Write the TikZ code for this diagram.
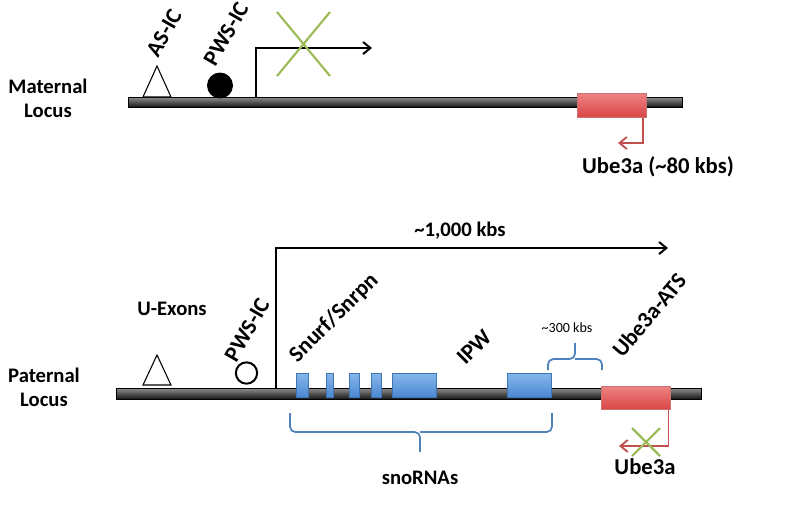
\documentclass[tikz,border=0pt]{standalone}
\usepackage{fontspec}
\setmainfont{Carlito}
\usetikzlibrary{arrows.meta,positioning}
\definecolor{locus}{HTML}{3A3A3A}
\definecolor{redtop}{HTML}{EE8383}
\definecolor{redbot}{HTML}{D94545}
\definecolor{redline}{HTML}{C0504D}
\definecolor{bluetop}{HTML}{86B6EA}
\definecolor{bluebot}{HTML}{4A88D2}
\definecolor{braceblue}{HTML}{4F81BD}
\definecolor{nogreen}{HTML}{9BBB59}

\begin{document}
\begin{tikzpicture}[x=0.75pt, y=-0.75pt,
  lbl/.style={font=\bfseries\fontsize{15.5}{18}\selectfont, align=center, inner sep=0pt},
  rlbl/.style={font=\bfseries\fontsize{17}{19}\selectfont, inner sep=0pt},
  gene/.style={font=\bfseries\fontsize{17}{20}\selectfont, inner sep=0pt},
  chrom/.style={draw=black, line width=0.4pt, top color=black!45, middle color=black!60, bottom color=black!92, inner sep=0pt, anchor=north west},
  redbox/.style={draw=redline!80, line width=0.4pt, top color=redtop, bottom color=redbot, inner sep=0pt, anchor=north west},
  exon/.style={draw=bluebot!85!black, line width=0.4pt, top color=bluetop, bottom color=bluebot, inner sep=0pt, anchor=north west, minimum height=18pt},
  ic/.style={draw=black, line width=0.8pt, fill=white, line join=miter},
  prom/.style={draw=black, line width=1.5pt, -{Straight Barb[length=5.5pt, width=9pt]}},
  redarr/.style={draw=redline, line width=1.4pt, -{Straight Barb[length=5.5pt, width=9pt]}},
  nox/.style={draw=nogreen, line width=1.6pt},
  brc/.style={draw=braceblue, line width=1.3pt, rounded corners=4pt}]
\useasboundingbox (0,0) rectangle (800,515);

% maternal locus
\node[lbl] (matlbl) at (48,98) {Maternal\\Locus};
\node[chrom, minimum width=415.5pt, minimum height=7.5pt] (barM) at (128,97) {};
\coordinate (asM) at (157,66);
\draw[ic] (143,97) -- (asM) -- (171,97) -- cycle;
\node[rlbl, rotate=60] (asMlbl) at (164,33) {AS-IC};
\node[circle, fill=black, minimum size=19.5pt, inner sep=0pt] (pwsM) at (220,85.5) {};
\node[rlbl, rotate=60] (pwsMlbl) at (226,34) {PWS-IC};
\coordinate (tssM) at (256,97);
\coordinate (tssMend) at (372,48);
\draw[prom] (tssM) |- (tssMend);
\draw[nox] (277,12) -- (330,76) (330,12) -- (277,76);
\node[redbox, minimum width=51.75pt, minimum height=18pt] (ubeM) at (577,93) {};
\coordinate (ubeMend) at (618,143);
\draw[redarr] ([xshift=-2.5pt]ubeM.south east) |- (ubeMend);
\node[gene] (ubeMlbl) at (658,167) {Ube3a (\char`\~80 kbs)};

% paternal locus
\node[lbl] (patlbl) at (44,387) {Paternal\\Locus};
\node[chrom, minimum width=438.75pt, minimum height=8.25pt] (barP) at (116,388) {};
\coordinate (uexP) at (157,355);
\draw[ic] (143,385) -- (uexP) -- (171,385) -- cycle;
\node[lbl] (uexlbl) at (172,309) {U-Exons};
\node[circle, draw=black, line width=1.5pt, fill=white, minimum size=16pt, inner sep=0pt] (pwsP) at (246.5,373) {};
\node[rlbl, rotate=60] (pwsPlbl) at (247,330) {PWS-IC};
\coordinate (tssP) at (276,388);
\coordinate (tssPend) at (668,248);
\draw[prom] (tssP) |- (tssPend);
\node[lbl] (longlbl) at (460,231) {\char`\~1,000 kbs};

\node[exon, minimum width=9pt] (ex1) at (296,373) {};
\node[exon, minimum width=5.25pt] (ex2) at (326,373) {};
\node[exon, minimum width=7.5pt] (ex3) at (349,373) {};
\node[exon, minimum width=7.5pt] (ex4) at (371,373) {};
\node[exon, minimum width=33pt] (ex5) at (392,373) {};
\node[exon, minimum width=33pt] (ex6) at (507,373) {};
\node[rlbl, rotate=45] (snrpnlbl) at (334,318) {Snurf/Snrpn};
\node[rlbl, rotate=45] (ipwlbl) at (474,347) {IPW};

\coordinate (gapL) at (548,370);
\coordinate (gapR) at (602,370);
\coordinate (gapTip) at (575,343);
\draw[brc] (gapL) |- (575,359) -- (gapTip);
\draw[brc] (gapR) |- (575,359);
\node[font=\fontsize{10.5}{12}\selectfont, inner sep=0pt] (gaplbl) at (567,328) {\char`\~300 kbs};

\node[redbox, minimum width=51.75pt, minimum height=17.25pt] (ubeP) at (601,386) {};
\node[rlbl, rotate=50] (atslbl) at (649,315) {Ube3a-ATS};
\coordinate (ubePend) at (619,446);
\draw[redarr] ([xshift=-1.5pt]ubeP.south east) |- (ubePend);
\draw[nox] (632,428) -- (660,456) (660,428) -- (632,456);
\node[gene] (ubePlbl) at (645,467) {Ube3a};

\coordinate (snoL) at (290,413);
\coordinate (snoR) at (552,413);
\coordinate (snoTip) at (420,452);
\draw[brc] (snoL) |- (420,432) -- (snoTip);
\draw[brc] (snoR) |- (420,432);
\node[lbl] (snolbl) at (420,478) {snoRNAs};
\end{tikzpicture}
\end{document}
